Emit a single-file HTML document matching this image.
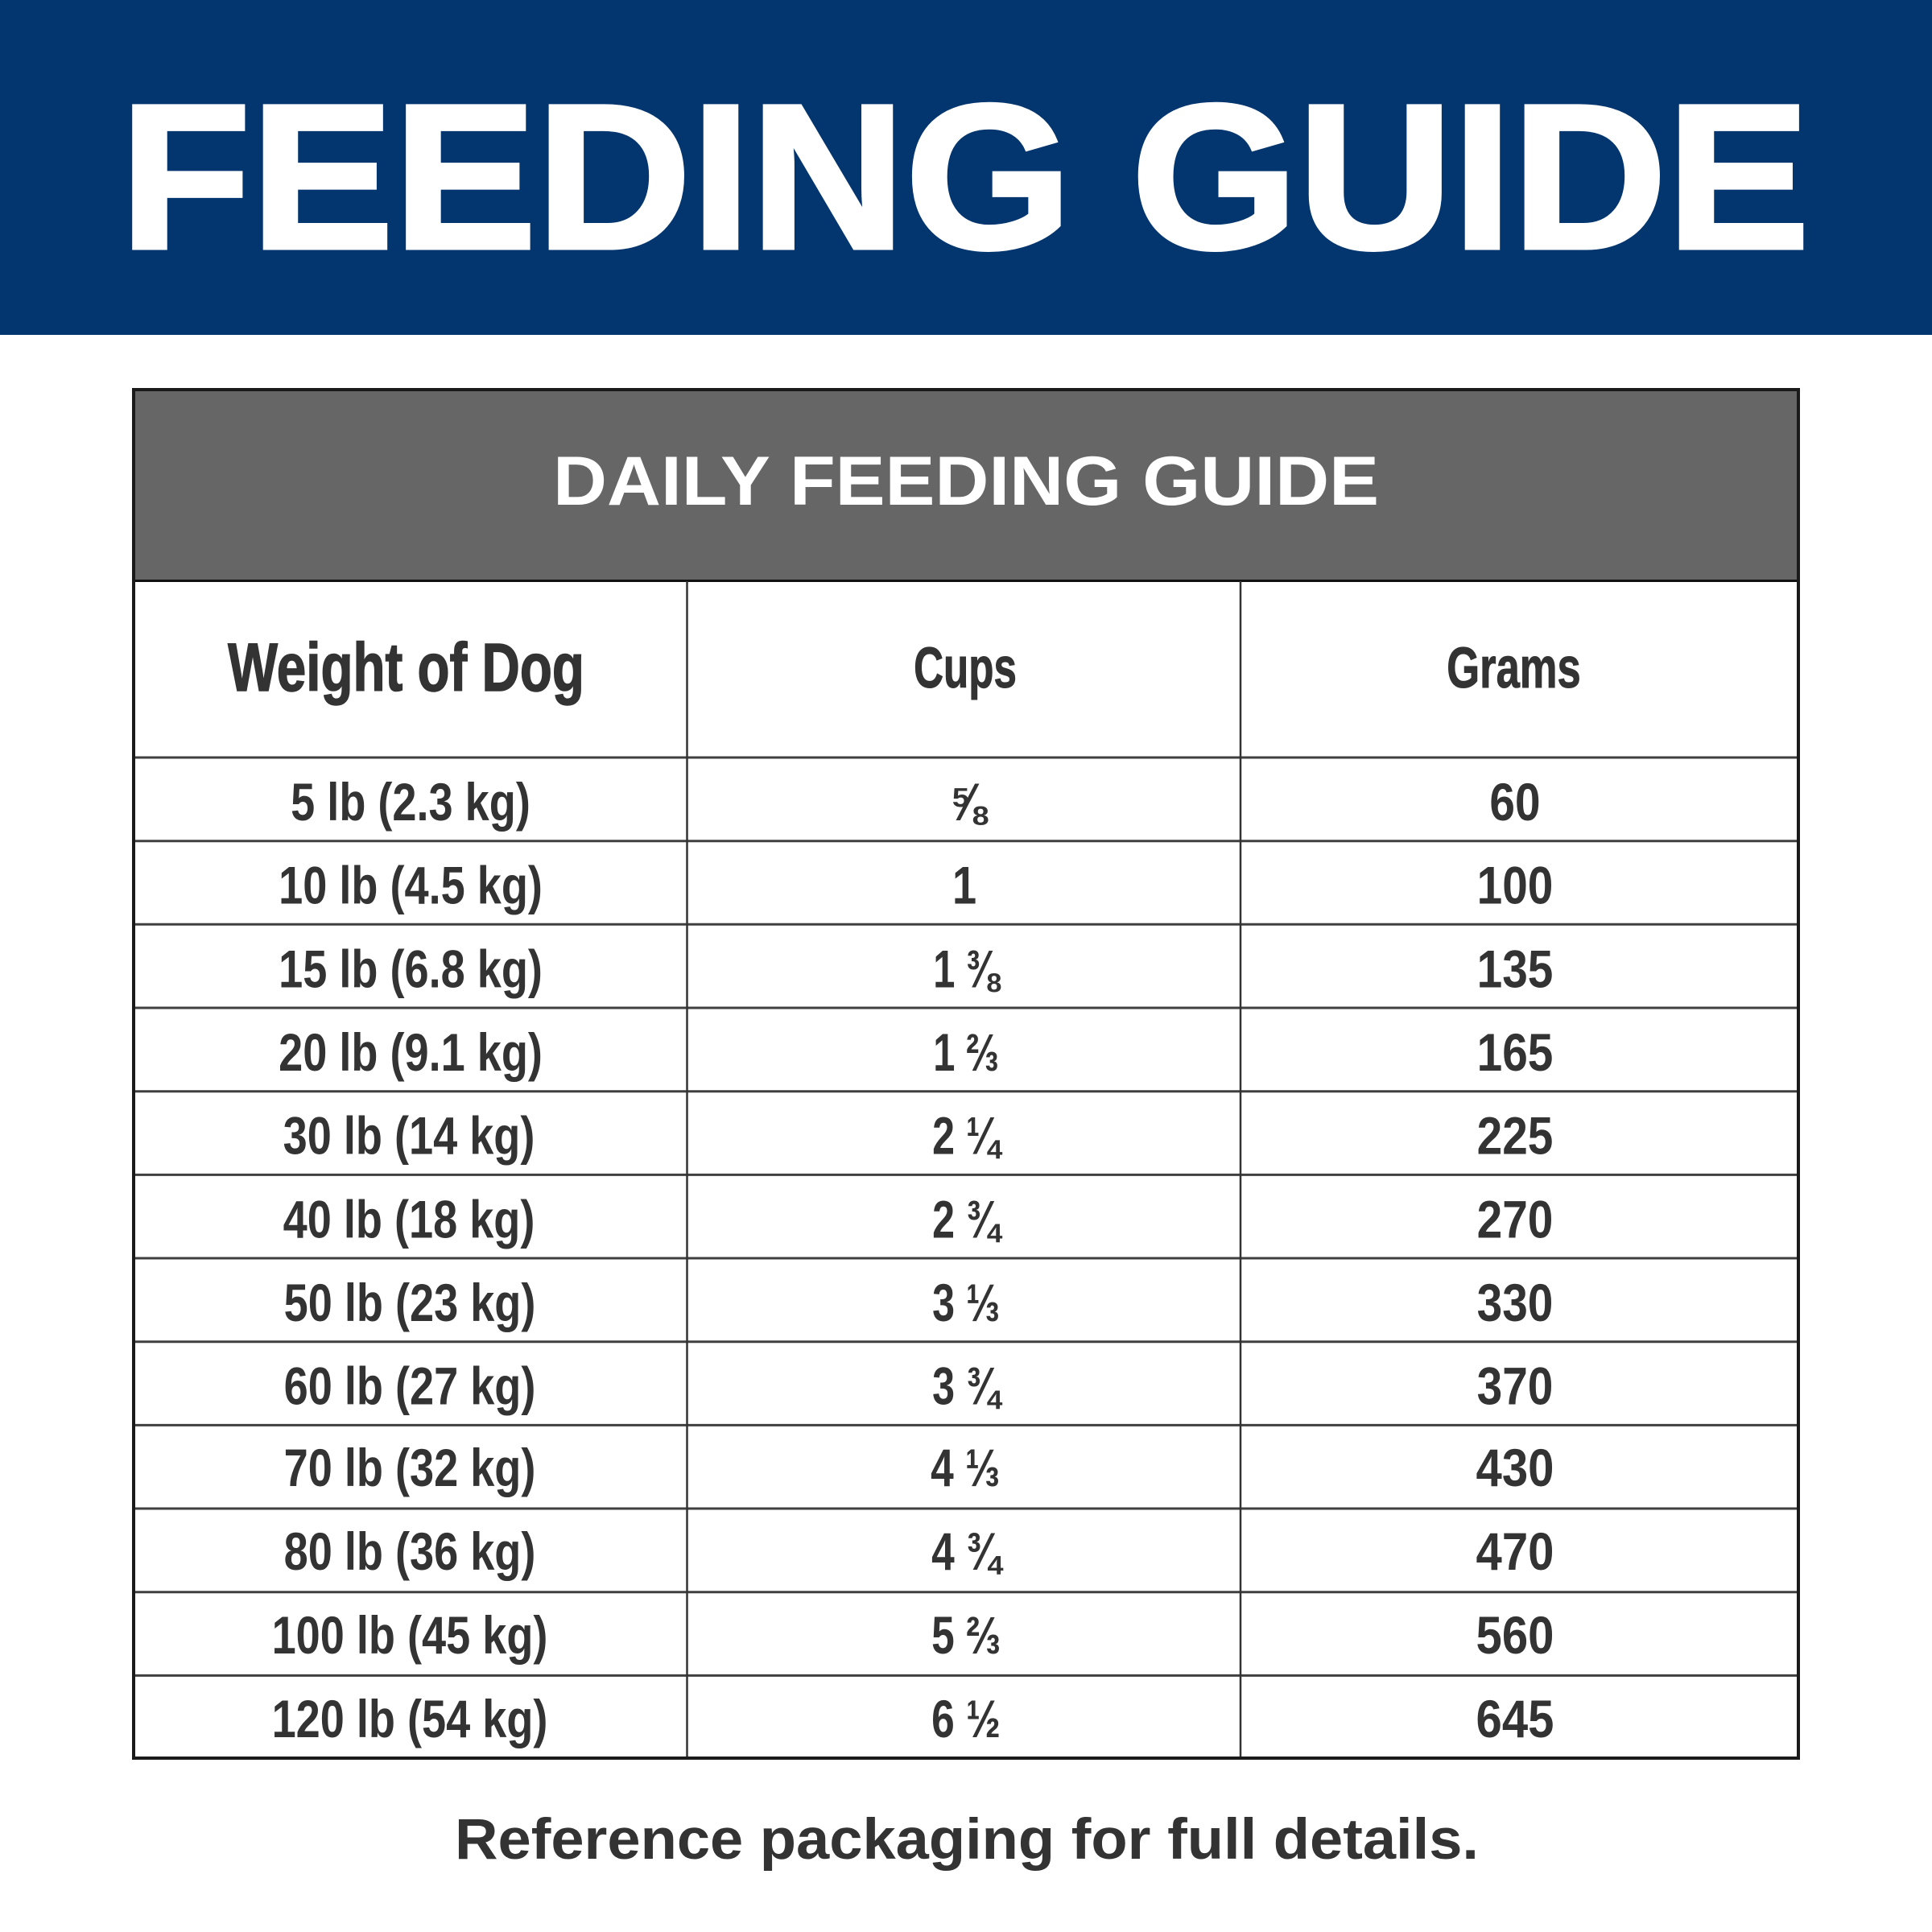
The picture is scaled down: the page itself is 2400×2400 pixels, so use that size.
<!DOCTYPE html>
<html>
<head>
<meta charset="utf-8">
<style>
  html, body { margin: 0; padding: 0; background: #ffffff; }
  svg { display: block; }
  .b { font-family: "Liberation Sans", "DejaVu Sans", sans-serif; font-weight: bold; }
</style>
</head>
<body>
<svg width="2400" height="2400" viewBox="0 0 2400 2400" xmlns="http://www.w3.org/2000/svg">
  <rect x="0" y="0" width="2400" height="2400" fill="#ffffff"/>
  <!-- Blue header band -->
  <rect x="0" y="0" width="2400" height="416" fill="#03356f"/>
  <text class="b" x="149" y="308" font-size="256" fill="#ffffff" stroke="#ffffff" stroke-width="5" textLength="2099" lengthAdjust="spacingAndGlyphs">FEEDING GUIDE</text>

  <!-- Table -->
  <rect x="166" y="484" width="2068" height="1700" fill="#ffffff"/>
  <rect x="166" y="484" width="2068" height="237" fill="#666666"/>
  <text class="b" x="687" y="627" font-size="86" fill="#ffffff" textLength="1026" lengthAdjust="spacingAndGlyphs">DAILY FEEDING GUIDE</text>

  <!-- header bottom line -->
  <line x1="166" y1="721.5" x2="2234" y2="721.5" stroke="#111111" stroke-width="3"/>

  <!-- row lines -->
  <g stroke="#3f3f3f" stroke-width="3">
    <line x1="166" y1="941" x2="2234" y2="941"/>
    <line x1="166" y1="1044.7" x2="2234" y2="1044.7"/>
    <line x1="166" y1="1148.3" x2="2234" y2="1148.3"/>
    <line x1="166" y1="1252" x2="2234" y2="1252"/>
    <line x1="166" y1="1355.7" x2="2234" y2="1355.7"/>
    <line x1="166" y1="1459.4" x2="2234" y2="1459.4"/>
    <line x1="166" y1="1563" x2="2234" y2="1563"/>
    <line x1="166" y1="1666.7" x2="2234" y2="1666.7"/>
    <line x1="166" y1="1770.4" x2="2234" y2="1770.4"/>
    <line x1="166" y1="1874" x2="2234" y2="1874"/>
    <line x1="166" y1="1977.7" x2="2234" y2="1977.7"/>
    <line x1="166" y1="2081.4" x2="2234" y2="2081.4"/>
  </g>
  <!-- column dividers -->
  <g stroke="#333333" stroke-width="2.5">
    <line x1="853.5" y1="722" x2="853.5" y2="2184"/>
    <line x1="1541" y1="722" x2="1541" y2="2184"/>
  </g>
  <!-- outer border -->
  <rect x="166" y="484" width="2068" height="1700" fill="none" stroke="#1a1a1a" stroke-width="4"/>

  <!-- Column headers -->
  <g class="b" fill="#333333" text-anchor="middle">
    <g transform="translate(504.5,858) scale(0.78,1)"><text x="0" y="0" font-size="84" stroke="#333333" stroke-width="1.5">Weight of Dog</text></g>
    <g transform="translate(1199,854) scale(0.72,1)"><text x="0" y="0" font-size="71" stroke="#333333" stroke-width="1">Cups</text></g>
    <g transform="translate(1880.5,854) scale(0.74,1)"><text x="0" y="0" font-size="71" stroke="#333333" stroke-width="1">Grams</text></g>
  </g>

  <!-- Data rows -->
  <g class="b" fill="#333333" text-anchor="middle" font-size="66">
    <!-- column 1 -->
    <g transform="translate(510,1019) scale(0.82,1)"><text>5 lb (2.3 kg)</text></g>
    <g transform="translate(510,1122.7) scale(0.82,1)"><text>10 lb (4.5 kg)</text></g>
    <g transform="translate(510,1226.3) scale(0.82,1)"><text>15 lb (6.8 kg)</text></g>
    <g transform="translate(510,1330) scale(0.82,1)"><text>20 lb (9.1 kg)</text></g>
    <g transform="translate(508,1433.7) scale(0.82,1)"><text>30 lb (14 kg)</text></g>
    <g transform="translate(508,1537.4) scale(0.82,1)"><text>40 lb (18 kg)</text></g>
    <g transform="translate(509,1641) scale(0.82,1)"><text>50 lb (23 kg)</text></g>
    <g transform="translate(509,1744.7) scale(0.82,1)"><text>60 lb (27 kg)</text></g>
    <g transform="translate(509,1846) scale(0.82,1)"><text>70 lb (32 kg)</text></g>
    <g transform="translate(509,1950) scale(0.82,1)"><text>80 lb (36 kg)</text></g>
    <g transform="translate(509,2054) scale(0.82,1)"><text>100 lb (45 kg)</text></g>
    <g transform="translate(509,2158) scale(0.82,1)"><text>120 lb (54 kg)</text></g>

    <!-- column 2 -->
    <g transform="translate(1202,1019) scale(0.82,1)"><text>⅝</text></g>
    <g transform="translate(1198,1122.7) scale(0.82,1)"><text>1</text></g>
    <g transform="translate(1200,1226.3) scale(0.74,1)"><text>1 ⅜</text></g>
    <g transform="translate(1200,1330) scale(0.74,1)"><text>1 ⅔</text></g>
    <g transform="translate(1200,1433.7) scale(0.76,1)"><text>2 ¼</text></g>
    <g transform="translate(1200,1537.4) scale(0.76,1)"><text>2 ¾</text></g>
    <g transform="translate(1200,1641) scale(0.76,1)"><text>3 ⅓</text></g>
    <g transform="translate(1200,1744.7) scale(0.76,1)"><text>3 ¾</text></g>
    <g transform="translate(1199,1846) scale(0.78,1)"><text>4 ⅓</text></g>
    <g transform="translate(1200,1950) scale(0.78,1)"><text>4 ¾</text></g>
    <g transform="translate(1200,2054) scale(0.78,1)"><text>5 ⅔</text></g>
    <g transform="translate(1200,2158) scale(0.78,1)"><text>6 ½</text></g>

    <!-- column 3 -->
    <g transform="translate(1882,1019) scale(0.86,1)"><text>60</text></g>
    <g transform="translate(1882,1122.7) scale(0.86,1)"><text>100</text></g>
    <g transform="translate(1882,1226.3) scale(0.86,1)"><text>135</text></g>
    <g transform="translate(1882,1330) scale(0.86,1)"><text>165</text></g>
    <g transform="translate(1882,1433.7) scale(0.86,1)"><text>225</text></g>
    <g transform="translate(1882,1537.4) scale(0.86,1)"><text>270</text></g>
    <g transform="translate(1882,1641) scale(0.86,1)"><text>330</text></g>
    <g transform="translate(1882,1744.7) scale(0.86,1)"><text>370</text></g>
    <g transform="translate(1882,1846) scale(0.88,1)"><text>430</text></g>
    <g transform="translate(1882,1950) scale(0.88,1)"><text>470</text></g>
    <g transform="translate(1882,2054) scale(0.88,1)"><text>560</text></g>
    <g transform="translate(1882,2158) scale(0.88,1)"><text>645</text></g>
  </g>

  <!-- Footer -->
  <text class="b" x="565" y="2309" font-size="71" fill="#333333" textLength="1272" lengthAdjust="spacingAndGlyphs">Reference packaging for full details.</text>
</svg>
</body>
</html>
